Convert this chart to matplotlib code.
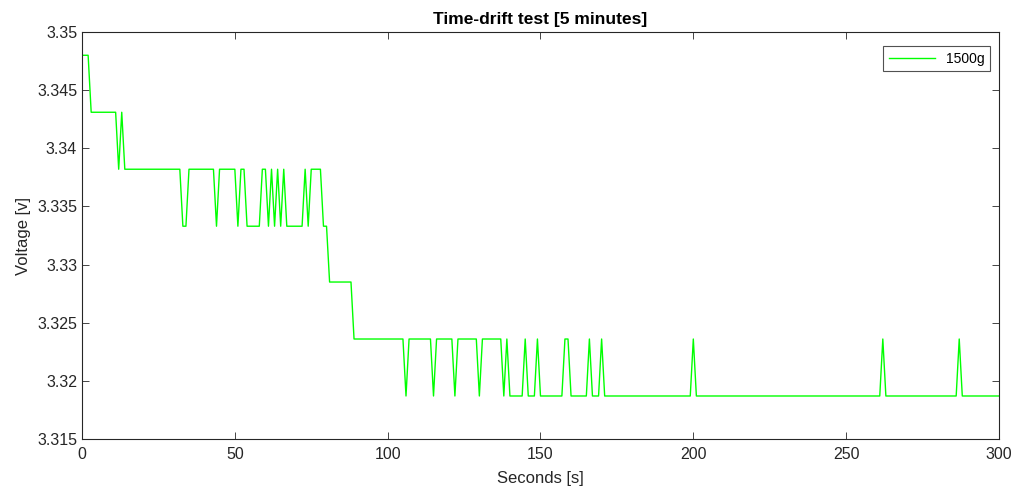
import numpy as np
import matplotlib
matplotlib.use('Agg')
import matplotlib.pyplot as plt
from matplotlib.ticker import FuncFormatter

# quantised voltage levels
levels_v = [3.3480, 3.3431, 3.3382, 3.3333, 3.3285, 3.3236, 3.3187]

# sequence of level indices and how many 1-second samples each one lasts
run_level = [0, 1, 2, 1, 2, 3, 2, 3, 2, 3, 2, 3, 2, 3, 2, 3, 2, 3, 2, 3, 2, 3, 2, 3,
             4, 5, 6, 5, 6, 5, 6, 5, 6, 5, 6, 5, 6, 5, 6, 5, 6, 5, 6, 5, 6, 5, 6,
             5, 6, 5, 6, 5, 6]
run_len = [3, 9, 1, 1, 19, 2, 9, 1, 6, 1, 2, 5, 2, 1, 1, 1, 1, 1, 1, 6, 1, 1, 4, 2,
           8, 17, 1, 8, 1, 6, 1, 7, 1, 7, 1, 1, 5, 1, 3, 1, 8, 2, 6, 1, 3, 1, 29,
           1, 61, 1, 24, 1, 13]

voltage = np.repeat(np.array(levels_v)[run_level], run_len)
seconds = np.arange(len(voltage))

plt.rcParams['font.family'] = ['Liberation Sans', 'DejaVu Sans']

fig = plt.figure(figsize=(10.15, 4.94), dpi=100)
ax = fig.add_axes([0.0808, 0.1113, 0.9034, 0.8239])

ax.plot(seconds, voltage, color=(0, 1, 0), linewidth=1.0, label='1500g')

ax.set_xlim(0, 300)
ax.set_ylim(3.315, 3.35)
ax.set_xticks(np.arange(0, 301, 50))
ax.set_yticks(np.arange(3.315, 3.3501, 0.005))
ax.yaxis.set_major_formatter(FuncFormatter(lambda v, p: '%g' % round(v, 4)))

grey = '#262626'
ax.tick_params(direction='in', length=5, width=0.6, colors=grey, labelsize=11.5,
               top=True, right=True)
ax.tick_params(axis='x', pad=6)
for s in ax.spines.values():
    s.set_color(grey)
    s.set_linewidth(0.8)

ax.set_xlabel('Seconds [s]', fontsize=12, color=grey, labelpad=6)
ax.set_ylabel('Voltage [v]', fontsize=12, color=grey)
ax.set_title('Time-drift test [5 minutes]', fontsize=12.5, fontweight='bold', color='black')

leg = ax.legend(loc='upper right', fancybox=False, edgecolor=grey, fontsize=10,
                handlelength=3.3, borderaxespad=0,
                bbox_to_anchor=(990 / 1015, 1 - 46 / 494), bbox_transform=fig.transFigure)
leg.get_frame().set_linewidth(0.8)

fig.savefig('out.png', dpi=100)
